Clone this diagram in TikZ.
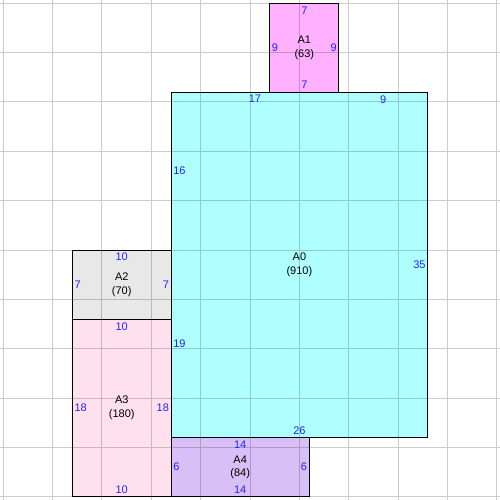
\documentclass[tikz,border=0pt]{standalone}
\usepackage{fontspec}
\setmainfont{Liberation Sans}
\definecolor{dimblue}{RGB}{35,35,255}
\definecolor{cA0}{RGB}{176,255,255}
\definecolor{cA1}{RGB}{255,176,255}
\definecolor{cA2}{RGB}{232,232,232}
\definecolor{cA3}{RGB}{255,224,236}
\definecolor{cA4}{RGB}{216,192,246}
\begin{document}
\begin{tikzpicture}[x=9.87pt,y=-9.87pt,
  room/.style={draw=black,line width=1pt},
  gridline/.style={draw=black,opacity=0.2,line width=1pt},
  dim/.style={text=dimblue,font=\fontsize{11}{13}\selectfont,inner sep=0pt},
  dimT/.style={dim,anchor=north,inner ysep=3pt},
  dimB/.style={dim,anchor=south,inner ysep=3pt},
  dimL/.style={dim,anchor=west,inner xsep=2pt},
  dimR/.style={dim,anchor=east,inner xsep=2pt},
  lbl/.style={align=center,font=\fontsize{11}{13.5}\selectfont,inner sep=0pt}]
\useasboundingbox (-0.334,-0.334) rectangle (50.325,50.325);
\fill[white] (-0.334,-0.334) rectangle (50.325,50.325);
% fills
\fill[cA0] (17,9) rectangle (43,44);
\fill[cA1] (27,0) rectangle (34,9);
\fill[cA2] (7,25) rectangle (17,32);
\fill[cA3] (7,32) rectangle (17,50);
\fill[cA4] (17,44) rectangle (31,50);
% grid
\path[gridline] foreach \i in {0,5,...,50} {(\i,-0.5) -- (\i,50.5) (-0.5,\i) -- (50.5,\i)};
% borders
\draw[room] (17,9) rectangle (43,44);
\draw[room] (27,0) rectangle (34,9);
\draw[room] (7,25) rectangle (17,32);
\draw[room] (7,32) rectangle (17,50);
\draw[room] (17,44) rectangle (31,50);
% names
\node[lbl] (a0) at (30,26.5) {A0\\(910)};
\node[lbl] (a1) at (30.5,4.5) {A1\\(63)};
\node[lbl] (a2) at (12,28.5) {A2\\(70)};
\node[lbl] (a3) at (12,41) {A3\\(180)};
\node[lbl] (a4) at (24,47) {A4\\(84)};
% A0 dimensions
\node[dimT] (a0t1) at (25.5,9) {17};
\node[dimT] (a0t2) at (38.5,9) {9};
\node[dimL] (a0l1) at (17,17) {16};
\node[dimL] (a0l2) at (17,34.5) {19};
\node[dimR] (a0r) at (43,26.5) {35};
\node[dimB] (a0b) at (30,44) {26};
% A1
\node[dimT] (a1t) at (30.5,0) {7};
\node[dimB] (a1b) at (30.5,9) {7};
\node[dimL] (a1l) at (27,4.5) {9};
\node[dimR] (a1r) at (34,4.5) {9};
% A2
\node[dimT] (a2t) at (12,25) {10};
\node[dimL] (a2l) at (7,28.5) {7};
\node[dimR] (a2r) at (17,28.5) {7};
% A3
\node[dimT] (a3t) at (12,32) {10};
\node[dimL] (a3l) at (7,41) {18};
\node[dimR] (a3r) at (17,41) {18};
\node[dimB] (a3b) at (12,50) {10};
% A4
\node[dimT] (a4t) at (24,44) {14};
\node[dimB] (a4b) at (24,50) {14};
\node[dimL] (a4l) at (17,47) {6};
\node[dimR] (a4r) at (31,47) {6};
\end{tikzpicture}
\end{document}
